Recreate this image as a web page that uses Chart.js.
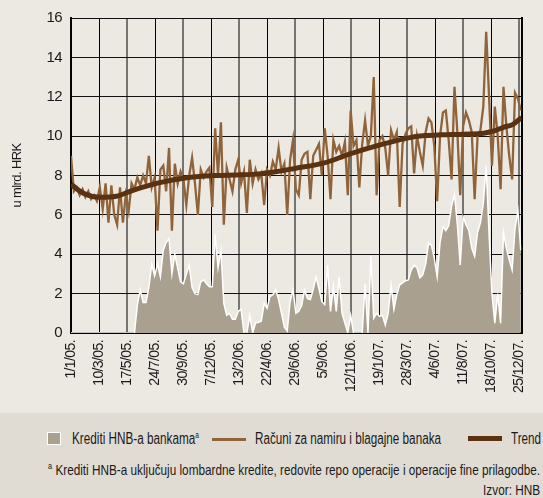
<!DOCTYPE html>
<html>
<head>
<meta charset="utf-8">
<script src="https://cdn.jsdelivr.net/npm/chart.js@4.4.1/dist/chart.umd.min.js"></script>
<style>
  html, body { margin: 0; padding: 0; }
  body { width: 543px; height: 498px; background: #ece8e2; position: relative; overflow: hidden;
         font-family: 'Liberation Sans', Arial, sans-serif; color: #1a1a1a; }
  #wrap { position: absolute; left: 0; top: 0; width: 543px; height: 412px; }
  #band { position: absolute; left: 0; top: 413px; width: 543px; height: 85px; background: #e1dcd3; }
  .lg { position: absolute; font-size: 16px; line-height: 16px; white-space: nowrap; transform-origin: left center; }
  .lg.r { transform-origin: right center; font-size: 14.5px; }
  .sw { position: absolute; }
  sup { font-size: 9px; vertical-align: 6px; line-height: 0; }
</style>
</head>
<body>
<div id="wrap"><canvas id="chart" width="543" height="412"></canvas></div>
<div id="band">
  <div class="sw" style="left:47px;top:19px;width:12px;height:11px;background:#aaa08f;border:1.5px solid #fff"></div>
  <div class="lg" data-w="127" style="left:72px;top:18px">Krediti HNB-a bankama<sup>a</sup></div>
  <div class="sw" style="left:212px;top:25px;width:34px;height:3px;background:#90643a"></div>
  <div class="lg" data-w="186" style="left:255px;top:18px">Računi za namiru i blagajne banaka</div>
  <div class="sw" style="left:468px;top:23px;width:34px;height:5px;background:#5a3211"></div>
  <div class="lg" data-w="30" style="left:511px;top:18px">Trend</div>
  <div class="lg r" data-w="492" style="right:3px;top:49px"><sup>a</sup> Krediti HNB-a uključuju lombardne kredite, redovite repo operacije i operacije fine prilagodbe.</div>
  <div class="lg r" data-w="57" style="right:3px;top:69px">Izvor: HNB</div>
</div>
<script>
// ── Data (weekly samples, day 0 = 1/1/2005) ──────────────────────────────────
const STEP_DAYS = 7;
const tickLabels = ['1/1/05.', '10/3/05.', '17/5/05.', '24/7/05.', '30/9/05.', '7/12/05.',
  '13/2/06.', '22/4/06.', '29/6/06.', '5/9/06.', '12/11/06.', '19/1/07.', '28/3/07.',
  '4/6/07.', '11/8/07.', '18/10/07.', '25/12/07.'];

const racuni = [
  9.0, 7.2, 7.4, 7.0, 7.3, 6.9, 7.2, 6.8, 7.0, 6.7,
  7.4, 6.3, 7.6, 5.6, 7.5, 6.0, 5.5, 7.4, 5.6, 7.0,
  6.2, 7.6, 7.3, 7.9, 7.5, 8.0, 7.6, 9.0, 7.4, 7.9,
  5.2, 8.3, 8.5, 7.2, 9.4, 5.2, 8.6, 7.6, 8.2, 7.8,
  6.5, 8.0, 8.9, 7.6, 6.0, 8.3, 7.9, 8.2, 8.4, 6.4,
  10.4, 8.0, 10.7, 5.5, 8.4, 7.8, 7.2, 8.3, 8.8, 7.6,
  8.2, 6.1, 8.8, 7.6, 8.3, 7.8, 8.1, 6.5, 8.3, 8.0,
  8.7, 8.3, 9.4, 8.2, 8.6, 6.0, 8.8, 9.8, 7.3, 7.0,
  8.8, 9.1, 9.2, 6.8, 9.0, 9.3, 9.6, 8.0, 10.4, 9.0,
  6.8, 9.8, 9.2, 9.5, 9.0, 9.7, 7.0, 11.3, 9.5, 9.8,
  7.4, 9.6, 10.8, 9.5, 10.0, 13.0, 7.0, 9.8, 10.0, 9.4,
  8.0, 10.3, 9.8, 10.2, 6.4, 9.6, 10.1, 10.4, 10.5, 8.1,
  10.0, 9.2, 8.5, 10.2, 10.9, 10.7, 9.5, 6.7, 10.0, 11.2,
  11.3, 9.8, 7.8, 12.5, 10.2, 7.0, 10.5, 11.2, 10.8, 10.2,
  6.8, 10.0, 10.3, 11.5, 15.3, 12.0, 8.5, 11.5, 10.0, 7.3,
  12.5, 10.5, 9.0, 7.8, 12.2, 11.9, 11.3
];

const krediti = [
  0, 0, 0, 0, 0, 0, 0, 0, 0, 0,
  0, 0, 0, 0, 0, 0, 0, 0, 0, 0,
  0, 0, 0, 1.4, 2.2, 1.55, 1.55, 2.3, 3.5, 2.9,
  3.5, 2.85, 4.2, 4.6, 4.8, 3.0, 4.0, 3.3, 2.6, 2.5,
  3.0, 3.45, 2.3, 2.0, 1.95, 2.6, 2.7, 2.5, 2.35, 2.35,
  5.0, 3.3, 4.2, 1.5, 0.9, 1.0, 0.7, 0.7, 1.1, 1.2,
  0, 0, 0.9, 0, 0.5, 0.55, 0.6, 1.5, 1.25, 1.85,
  1.95, 2.2, 1.7, 1.0, 0.3, 0.1, 1.6, 2.2, 1.0, 1.1,
  1.4, 2.2, 1.75, 1.7, 2.2, 2.85, 2.25, 1.6, 1.45, 3.45,
  1.1, 2.35, 1.1, 2.85, 1.0, 0.5, 0, 0.9, 0, 0,
  0, 0, 2.5, 0, 3.9, 0.75, 1.0, 0.85, 0.9, 0.4,
  1.0, 2.45, 1.2, 1.95, 2.45, 2.55, 2.65, 2.7, 3.2, 3.45,
  3.3, 2.8, 2.95, 3.5, 4.55, 4.45, 3.8, 2.85, 4.6, 5.4,
  5.2, 5.45, 6.45, 7.05, 5.5, 3.45, 5.9, 5.5, 5.2, 4.3,
  3.9, 5.1, 5.6, 6.6, 8.5, 5.0, 2.0, 0.5, 2.0, 0.5,
  5.1, 4.3, 3.7, 3.2, 5.3, 6.2, 4.2
];

const trendDays   = [0, 30, 70, 110, 150, 190, 230, 270, 310, 350, 400, 450, 500, 546,
                     613, 681, 748, 816, 860, 900, 953, 1002, 1025, 1050, 1073, 1094];
const trendValues = [7.55, 7.1, 6.9, 6.95, 7.25, 7.5, 7.7, 7.85, 7.95, 8.0, 8.03, 8.07, 8.2, 8.37,
                     8.63, 9.12, 9.54, 9.9, 10.03, 10.07, 10.1, 10.15, 10.25, 10.45, 10.6, 10.95];

const days = racuni.map((_, i) => i * STEP_DAYS);

// ── Styling ──────────────────────────────────────────────────────────────────
const FONT = "'Liberation Sans', Arial, sans-serif";
const INK  = '#1a1a1a';

// the original type is a condensed face; tighten canvas text a little
const condense = {
  id: 'condense',
  beforeUpdate: c => { c.ctx.letterSpacing = '-0.6px'; },
  beforeDraw:   c => { c.ctx.letterSpacing = '-0.6px'; },
};

new Chart(document.getElementById('chart'), {
  type: 'line',
  plugins: [condense],
  data: {
    labels: days,
    datasets: [
      {
        label: 'Trend',
        data: trendDays.map((d, i) => ({ x: d, y: trendValues[i] })),
        borderColor: '#5a3211', borderWidth: 5, pointRadius: 0,
        cubicInterpolationMode: 'monotone', order: 0,
      },
      {
        label: 'Računi za namiru i blagajne banaka',
        data: racuni,
        borderColor: '#90643a', borderWidth: 2.3, pointRadius: 0,
        tension: 0, order: 1,
      },
      {
        label: 'Krediti HNB-a bankama',
        data: krediti,
        borderColor: '#ffffff', borderWidth: 1.5, pointRadius: 0,
        backgroundColor: '#aaa08f', fill: 'origin',
        tension: 0, order: 2,
      },
    ]
  },
  options: {
    responsive: false, animation: false,
    layout: { padding: { top: 17, right: 11, left: 0, bottom: 0 } },
    plugins: { legend: { display: false }, tooltip: { enabled: false } },
    scales: {
      x: {
        type: 'linear', min: 0, max: 1094,
        ticks: {
          stepSize: 68, includeBounds: false, autoSkip: false,
          minRotation: 90, maxRotation: 90, padding: 7,
          color: INK, font: { family: FONT, size: 14 },
          callback: v => tickLabels[Math.round(v / 68)] || '',
        },
        grid: {
          drawTicks: false,
          color: ctx => ctx.index % 2 ? '#000' : 'rgba(0,0,0,0.5)',
          lineWidth: ctx => ctx.index % 2 ? 1 : 2,
        },
        border: { color: '#000', width: 2 },
        afterFit: s => { s.height = 79; },
      },
      y: {
        min: 0, max: 16,
        ticks: { stepSize: 2, padding: 9, color: INK, font: { family: FONT, size: 15 } },
        grid: { drawTicks: false, color: '#111', lineWidth: 1 },
        border: { color: '#000', width: 2 },
        title: { display: true, text: 'u mlrd. HRK', color: INK,
                 font: { family: FONT, size: 13 }, padding: { top: 10, bottom: 0 } },
        afterFit: s => { s.width = 71; },
      },
      yRight: {
        position: 'right', min: 0, max: 16,
        ticks: { display: false },
        grid: { display: false, drawTicks: false },
        border: { display: true, color: '#000', width: 2 },
        afterFit: s => { s.width = 0; },
      },
    }
  }
});

// squeeze legend / note text to the widths of the condensed original
document.querySelectorAll('[data-w]').forEach(el => {
  const w = el.getBoundingClientRect().width;
  el.style.transform = `scaleX(${el.dataset.w / w})`;
});
</script>
</body>
</html>
